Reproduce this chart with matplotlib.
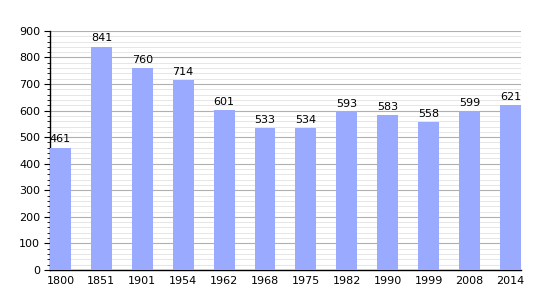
import numpy as np
import matplotlib.pyplot as plt
from matplotlib.ticker import MultipleLocator

years = ["1800", "1851", "1901", "1954", "1962", "1968", "1975",
         "1982", "1990", "1999", "2008", "2014"]
population = [461, 841, 760, 714, 601, 533, 534, 593, 583, 558, 599, 621]

fig = plt.figure(figsize=(5.5, 3), dpi=100)
ax = fig.add_axes([0.091, 0.1, 0.856, 0.797])

x = np.arange(len(years))
ax.bar(x, population, width=0.51, color="#99aaff", zorder=3)
for xi, v in zip(x, population):
    ax.text(xi, v + 12, str(v), ha="center", va="bottom", fontsize=8, zorder=4)

ax.set_xlim(-0.255, len(years) - 1 + 0.255)
ax.set_ylim(0, 900)
ax.set_xticks(x)
ax.set_xticklabels(years)
ax.yaxis.set_major_locator(MultipleLocator(100))
ax.yaxis.set_minor_locator(MultipleLocator(20))
ax.grid(axis="y", which="major", color="#b0b0b0", linewidth=0.8, zorder=0)
ax.grid(axis="y", which="minor", color="#e2e2e2", linewidth=0.6, zorder=0)
ax.tick_params(axis="x", length=0, labelsize=8, pad=4)
ax.tick_params(axis="y", which="major", length=4, direction="out", labelsize=8, pad=3)
ax.tick_params(axis="y", which="minor", length=2, direction="out")
for s in ["top", "right"]:
    ax.spines[s].set_visible(False)
ax.spines["left"].set_linewidth(1)
ax.spines["bottom"].set_linewidth(1)

fig.savefig("out.png", dpi=100)
